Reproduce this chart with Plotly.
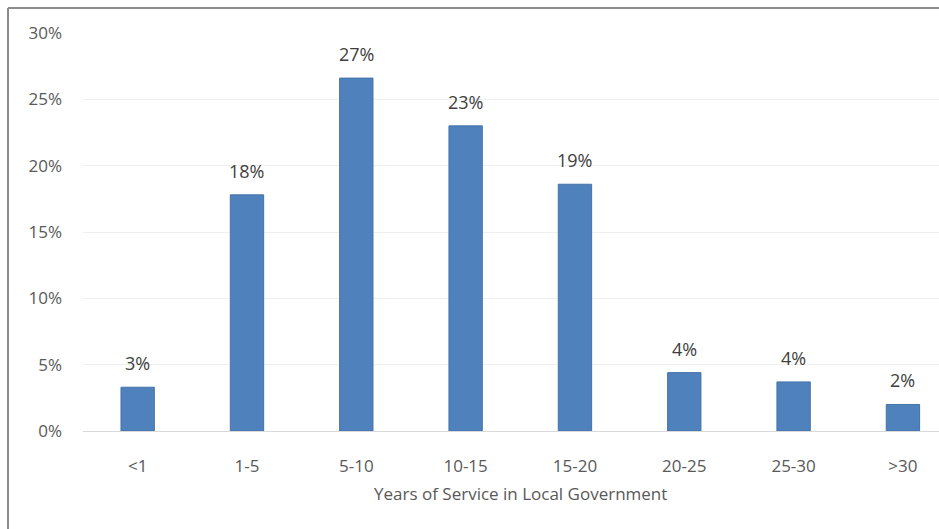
import plotly.graph_objects as go

# Share of respondents by years of service
categories = ["<1", "1-5", "5-10", "10-15", "15-20", "20-25", "25-30", ">30"]
shares = [3.3, 17.8, 26.6, 23.0, 18.6, 4.4, 3.7, 2.0]
y_ticks = [0, 5, 10, 15, 20, 25, 30]

W, H = 939, 529
M_L, M_R, M_T, M_B = 83, 0, 33, 98

bar_color = "#4F81BD"
text_color = "#595959"
font_family = "Open Sans, Lato, sans-serif"

fig = go.Figure()
fig.add_trace(go.Bar(
    x=categories,
    y=shares,
    marker=dict(color=bar_color, line=dict(color="#4472A8", width=1)),
    hoverinfo="x+y",
))

# value labels above each bar
for c, v in zip(categories, shares):
    fig.add_annotation(
        x=c, y=v, xref="x", yref="y",
        text=f"{v:.0f}%", showarrow=False,
        yanchor="bottom", yshift=10,
        font=dict(family=font_family, size=18, color="#404040"),
    )

# axis caption centred under the category band
fig.add_annotation(
    x=3.5, xref="x", y=-0.157, yref="paper",
    text="Years of Service in Local Government", showarrow=False,
    yanchor="middle",
    font=dict(family=font_family, size=17, color=text_color),
)

# frame along the top and left edges of the canvas
pw = W - M_L - M_R
ph = H - M_T - M_B
def px_x(p):
    return (p - M_L) / pw
def px_y(p):
    return (H - M_B - p) / ph
frame = dict(color="#8C8C8C", width=2)
fig.add_shape(type="line", xref="paper", yref="paper",
              x0=px_x(8), x1=px_x(W + 5), y0=px_y(8), y1=px_y(8), line=frame)
fig.add_shape(type="line", xref="paper", yref="paper",
              x0=px_x(8), x1=px_x(8), y0=px_y(8), y1=px_y(H + 5), line=frame)

fig.update_layout(
    width=W, height=H,
    margin=dict(l=M_L, r=M_R, t=M_T, b=M_B),
    paper_bgcolor="white", plot_bgcolor="white",
    bargap=0.695,
    showlegend=False,
    font=dict(family=font_family, size=17, color=text_color),
    xaxis=dict(
        type="category",
        range=[-0.5, 7.33],
        showgrid=False,
        showline=True, linecolor="#D9D9D9", linewidth=1,
        ticks="", ticklabelstandoff=20,
        tickfont=dict(size=17, color=text_color),
    ),
    yaxis=dict(
        range=[0, 30],
        tickvals=y_ticks,
        ticktext=[f"{t}%" for t in y_ticks],
        showgrid=True, gridcolor="#EFEFEF", gridwidth=1,
        zeroline=False, showline=False,
        ticks="", ticklabelstandoff=20,
        tickfont=dict(size=17, color=text_color),
    ),
)

fig.write_html("out.html")
